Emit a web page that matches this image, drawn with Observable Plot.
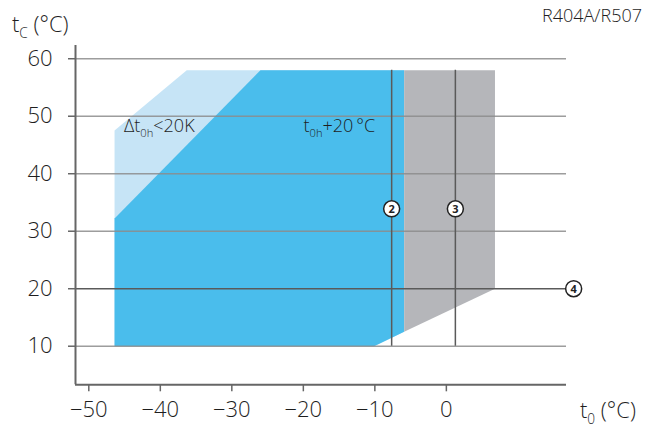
<!DOCTYPE html>
<html><head><meta charset="utf-8">
<script src="https://cdn.jsdelivr.net/npm/d3@7"></script>
<script src="https://cdn.jsdelivr.net/npm/@observablehq/plot@0.6"></script>
<style>
body{margin:0;background:#fff;font-family:"Open Sans",sans-serif}
#chart svg{display:block}
</style>
</head><body><div id="chart"></div>
<script>
// axis ticks
const xTicks = [-50, -40, -30, -20, -10, 0];
const yTicks = [10, 20, 30, 40, 50, 60];
const xDomain = [-51.86, 16.8];
const yDomain = [3.29, 62.3];
// application envelope regions (t0 °C, tc °C)
const lightBlueT0 = [-46.4, -46.4, -36.3, -5.9, -5.9, -10.1];
const lightBlueTc = [10, 47.5, 58, 58, 12.5, 10];
const blueT0 = [-46.4, -46.4, -26.0, -5.9, -5.9, -10.1];
const blueTc = [10, 32.2, 58, 58, 12.5, 10];
const greyT0 = [-5.9, 6.8, 6.8, -5.9];
const greyTc = [58, 58, 20, 12.5];
// limit lines
const gridTc = [10, 30, 40, 50, 60];
const limitLabels = ["2", "3"];
const limitT0 = [-7.65, 1.26];
const limitTcRange = [10, 58];
const markerTc = 33.9;
const line4Label = "4";
const line4Tc = 20;
const marker4T0 = 17.8;
// annotations
const annoText = ["Δt|0h|<20K", "t|0h|+20\u2009°C"];
const annoT0 = [-45.0, -19.9];
const annoTc = [47.2, 47.2];

const toPts = (xs, ys) => xs.map((x, i) => ({x, y: ys[i]}));
const limits = limitT0.map((x, i) => ({x, label: limitLabels[i]}));
const markers = [...limits.map(d => ({x: d.x, y: markerTc, label: d.label})), {x: marker4T0, y: line4Tc, label: line4Label}];

const fmt = d => d < 0 ? "\u2212" + Math.abs(d) : String(d);

const chart = Plot.plot({
  width: 656, height: 427,
  marginLeft: 75, marginRight: 90, marginTop: 45, marginBottom: 42.7,
  x: {domain: xDomain},
  y: {domain: yDomain},
  style: {fontFamily: "Open Sans, sans-serif", fontSize: "22px", fontWeight: 300, color: "#1e1e1e", background: "#fff"},
  marks: [
    Plot.line(toPts(lightBlueT0, lightBlueTc), {x: "x", y: "y", fill: "#c6e4f6", stroke: "none", curve: "linear-closed"}),
    Plot.line(toPts(blueT0, blueTc), {x: "x", y: "y", fill: "#4abdec", stroke: "none", curve: "linear-closed"}),
    Plot.line(toPts(greyT0, greyTc), {x: "x", y: "y", fill: "#b5b6ba", stroke: "none", curve: "linear-closed"}),
    Plot.ruleY(gridTc, {x1: () => xDomain[0], x2: () => xDomain[1], stroke: "#8c8c8c", strokeWidth: 1.5, strokeOpacity: 0.85}),
    Plot.ruleX(limits, {x: "x", y1: () => limitTcRange[0], y2: () => limitTcRange[1], stroke: "#5a5a5a", strokeWidth: 1.5}),
    Plot.ruleY([line4Tc], {x1: () => xDomain[0], x2: () => marker4T0, stroke: "#5a5a5a", strokeWidth: 1.5}),
    Plot.ruleX([xDomain[0]], {y1: () => yDomain[0], y2: () => yDomain[1], stroke: "#666", strokeWidth: 2}),
    Plot.ruleY([yDomain[0]], {x1: () => xDomain[0], x2: () => xDomain[1], stroke: "#666", strokeWidth: 2}),
    Plot.axisX(xTicks, {tickSize: 7, tickPadding: 10, tickFormat: fmt, label: null, stroke: "#666", strokeWidth: 1.5}),
    Plot.axisY(yTicks, {tickSize: 7, tickPadding: 16, label: null, stroke: "#666", strokeWidth: 1.5}),
    Plot.dot(markers, {x: "x", y: "y", r: 8, fill: "white", stroke: "#222", strokeWidth: 1.5}),
    Plot.text(markers, {x: "x", y: "y", text: "label", fontSize: 11, fontWeight: "bold", fill: "#222", dy: 0.5})
  ]
});
document.getElementById("chart").appendChild(chart);

const svg = d3.select(chart);
const sx = chart.scale("x"), sy = chart.scale("y");
function subText(x, y, parts, size, anchor) {
  const t = svg.append("text").attr("x", x).attr("y", y).attr("font-size", size).attr("font-weight", 300)
    .attr("fill", "#1e1e1e").attr("text-anchor", anchor || "start").attr("font-family", "Open Sans, sans-serif");
  parts.split("|").forEach((p, i) => {
    const ts = t.append("tspan").text(p);
    if (i % 2 === 1) ts.attr("font-size", size * 0.62).attr("dy", size * 0.28);
    else if (i > 0) ts.attr("dy", -size * 0.28);
  });
  return t;
}
subText(12, 32, "t|C| (°C)", 22);
subText(580, 418, "t|0| (°C)", 22);
svg.append("text").attr("x", 642).attr("y", 22).attr("text-anchor", "end").attr("font-size", 18).attr("font-weight", 300)
  .attr("fill", "#1e1e1e").attr("font-family", "Open Sans, sans-serif").text("R404A/R507");
annoText.forEach((s, i) => subText(sx.apply(annoT0[i]), sy.apply(annoTc[i]), s, 18));
</script>
</body></html>
